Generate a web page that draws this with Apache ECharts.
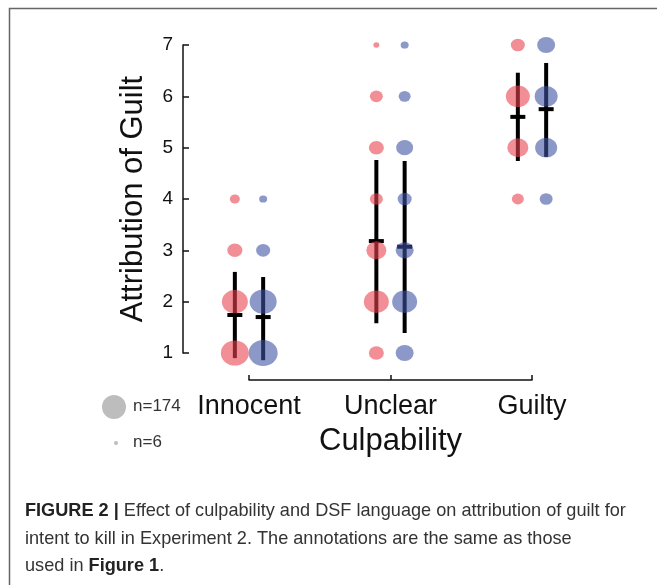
<!DOCTYPE html>
<html>
<head>
<meta charset="utf-8">
<script src="https://cdn.jsdelivr.net/npm/echarts@6/dist/echarts.min.js"></script>
<style>
  html, body { margin: 0; padding: 0; background: #fff; }
  #main { width: 657px; height: 585px; }
</style>
</head>
<body>
<div id="main"></div>
<script>
// culpability conditions on the x axis
var categories = ['Innocent', 'Unclear', 'Guilty'];
var ratings = [1, 2, 3, 4, 5, 6, 7];

// number of responses at each rating (1..7), per culpability condition
var redCounts = [
  [218, 188, 63, 28, 0, 0, 0],
  [63, 174, 111, 47, 63, 47, 10],
  [0, 0, 0, 40, 123, 160, 55]
];
var blueCounts = [
  [234, 203, 55, 18, 0, 0, 0],
  [90, 174, 90, 55, 80, 40, 18],
  [0, 0, 0, 47, 135, 147, 90]
];

// mean and the ends of the error bars
var redMean = [1.74, 3.18, 5.60];
var redLow = [0.90, 1.58, 4.74];
var redHigh = [2.58, 4.76, 6.46];
var blueMean = [1.70, 3.07, 5.75];
var blueLow = [0.86, 1.39, 4.82];
var blueHigh = [2.48, 4.74, 6.65];

var DODGE = 0.1;
var FONT = "'Liberation Sans', Arial, Helvetica, sans-serif";

function bubbleData(counts, shift) {
  var out = [];
  counts.forEach(function (row, ci) {
    row.forEach(function (n, ri) {
      if (n > 0) out.push([ci + 1 + shift, ratings[ri], n]);
    });
  });
  return out;
}
function barData(mean, low, high, shift) {
  return mean.map(function (m, i) { return [i + 1 + shift, m, low[i], high[i]]; });
}
function bubbleSize(v) {
  var w = 25 * Math.sqrt(v[2] / 174);
  return [w, w * 0.9];
}
function renderBar(params, api) {
  var x = api.value(0);
  var top = api.coord([x, api.value(3)]);
  var bot = api.coord([x, api.value(2)]);
  var mid = api.coord([x, api.value(1)]);
  var st = { stroke: '#000', lineWidth: 4 };
  return {
    type: 'group',
    children: [
      { type: 'line', shape: { x1: top[0], y1: top[1], x2: bot[0], y2: bot[1] }, style: st },
      { type: 'line', shape: { x1: mid[0] - 7.5, y1: mid[1], x2: mid[0] + 7.5, y2: mid[1] }, style: st }
    ]
  };
}

var captionRich = { b: { fontFamily: FONT, fontSize: 19, fontWeight: 'bold', fill: '#222' } };

var myChart = echarts.init(document.getElementById('main'));
var opt = {
  animation: false,
  backgroundColor: '#fff',
  grid: { left: 249, right: 125, top: 45, bottom: 232 },
  xAxis: {
    type: 'value', min: 1, max: 3, interval: 1, offset: 27,
    name: 'Culpability', nameLocation: 'middle', nameGap: 46,
    nameTextStyle: { fontFamily: FONT, fontSize: 31, color: '#111' },
    axisLine: { lineStyle: { color: '#111', width: 1.5 } },
    axisTick: { inside: true, length: 5, lineStyle: { color: '#111', width: 1.5 } },
    axisLabel: {
      margin: 13, fontFamily: FONT, fontSize: 27, color: '#111',
      formatter: function (v) { return categories[v - 1] || ''; }
    },
    splitLine: { show: false }
  },
  yAxis: {
    type: 'value', min: 1, max: 7, interval: 1, offset: 66,
    name: 'Attribution of Guilt', nameLocation: 'middle', nameGap: 34,
    nameTextStyle: { fontFamily: FONT, fontSize: 31, color: '#111' },
    axisLine: { show: true, lineStyle: { color: '#111', width: 1.5 } },
    axisTick: { show: true, inside: true, length: 6, lineStyle: { color: '#111', width: 1.5 } },
    axisLabel: { margin: 10, fontFamily: FONT, fontSize: 19, color: '#111' },
    splitLine: { show: false }
  },
  series: [
    { type: 'custom', name: 'Condition A bars', renderItem: renderBar, clip: false, z: 1,
      encode: { x: 0, y: 1 }, data: barData(redMean, redLow, redHigh, -DODGE) },
    { type: 'custom', name: 'Condition B bars', renderItem: renderBar, clip: false, z: 1,
      encode: { x: 0, y: 1 }, data: barData(blueMean, blueLow, blueHigh, DODGE) },
    { type: 'scatter', name: 'Condition A', clip: false, z: 3, symbolSize: bubbleSize,
      itemStyle: { color: 'rgba(233,64,76,0.74)' }, data: bubbleData(redCounts, -DODGE) },
    { type: 'scatter', name: 'Condition B', clip: false, z: 3, symbolSize: bubbleSize,
      itemStyle: { color: 'rgba(61,81,161,0.74)' }, data: bubbleData(blueCounts, DODGE) }
  ],
  graphic: [
    // figure frame
    { type: 'rect', left: 7, top: 6, shape: { width: 700, height: 700 }, silent: true,
      style: { fill: 'none', stroke: '#666', lineWidth: 1.5 } },
    // size legend
    { type: 'circle', shape: { cx: 114, cy: 407, r: 12 }, style: { fill: '#bdbdbd' } },
    { type: 'text', left: 133, top: 398, style: { text: 'n=174', font: '17px ' + FONT, fill: '#333' } },
    { type: 'circle', shape: { cx: 116, cy: 443, r: 2 }, style: { fill: '#bdbdbd' } },
    { type: 'text', left: 133, top: 434, style: { text: 'n=6', font: '17px ' + FONT, fill: '#333' } },
    // caption
    { type: 'text', x: 25, y: 501, scaleX: 0.955, style: {
        text: '{b|FIGURE 2 |} Effect of culpability and DSF language on attribution of guilt for',
        font: '19px ' + FONT, fill: '#333', rich: captionRich } },
    { type: 'text', x: 25, y: 529, scaleX: 0.955, style: {
        text: 'intent to kill in Experiment 2. The annotations are the same as those',
        font: '19px ' + FONT, fill: '#333' } },
    { type: 'text', x: 25, y: 556, scaleX: 0.955, style: {
        text: 'used in {b|Figure 1}.',
        font: '19px ' + FONT, fill: '#333', rich: captionRich } }
  ]
};
myChart.setOption(opt);
</script>
</body>
</html>
